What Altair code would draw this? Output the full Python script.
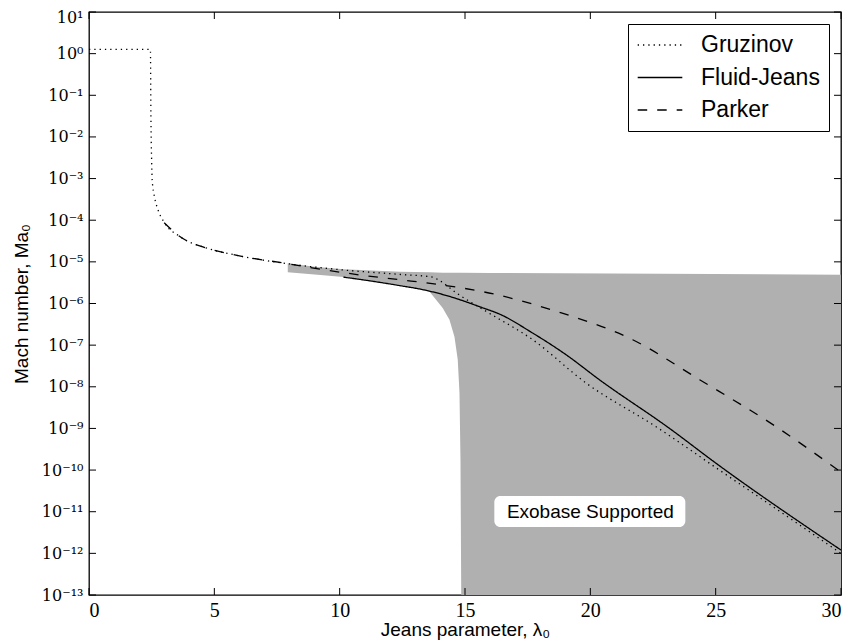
import json
import altair as alt
import pandas as pd

# ---------------- data ----------------
series_names = ["Gruzinov", "Fluid-Jeans", "Parker"]

gruzinov_x = [0.0, 2.45, 2.47, 2.50, 2.52, 2.61, 2.75, 3.01, 3.61, 4.74, 5.74, 8.0,
              10.26, 12.4, 13.7, 14.0, 14.65, 15.84, 17.7, 19.83, 22.62, 25.15, 30.0]
gruzinov_y = [1.26, 1.26, 3.2e-2, 2.5e-3, 9.3e-4, 3.7e-4, 1.8e-4, 8.7e-5, 4.1e-5, 2.1e-5,
              1.5e-5, 8.9e-6, 6.3e-6, 5.0e-6, 4.3e-6, 3.5e-6, 1.8e-6, 6.5e-7, 1.35e-7,
              1.23e-8, 1.1e-9, 1.0e-10, 1.0e-12]

fluid_x = [10.15, 11.2, 12.38, 13.4, 14.38, 15.7, 16.37, 17.7, 19.03, 20.36, 23.16, 25.02, 30.0]
fluid_y = [4.3e-6, 3.5e-6, 2.7e-6, 2.1e-6, 1.48e-6, 7.9e-7, 5.6e-7, 1.95e-7, 5.9e-8,
           1.48e-8, 1.0e-9, 1.45e-10, 1.2e-12]

parker_x = [3.0, 3.61, 4.74, 5.74, 8.0, 9.5, 10.86, 12.45, 14.05, 15.75, 18.64, 21.69,
            24.36, 27.41, 30.0]
parker_y = [8.7e-5, 4.1e-5, 2.1e-5, 1.5e-5, 8.9e-6, 6.3e-6, 4.8e-6, 3.7e-6, 2.8e-6,
            1.9e-6, 6.5e-7, 1.35e-7, 1.48e-8, 1.1e-9, 8.9e-11]

region_x = [7.93, 9.0, 10.15, 12.4, 13.58, 14.11, 14.38, 14.58, 14.71, 14.78, 14.82,
            14.85, 16.0, 30.0]
region_upper = [9.3e-6, 7.6e-6, 6.6e-6, 5.75e-6, 5.6e-6, 5.5e-6, 5.5e-6, 5.5e-6, 5.5e-6,
                5.5e-6, 5.5e-6, 5.5e-6, 5.4e-6, 4.9e-6]
region_lower = [5.6e-6, 5.0e-6, 4.3e-6, 2.8e-6, 1.95e-6, 7.8e-7, 4.1e-7, 1.6e-7, 4.5e-8,
                7.1e-9, 1.7e-10, 1e-13, 1e-13, 1e-13]

note_text = ["Exobase Supported"]
note_x = [20.0]
note_y = [1e-11]
note_box_x = [16.17]
note_box_x2 = [23.79]
note_box_y = [2.4e-11]
note_box_y2 = [4.27e-12]

x_ticks = [0, 5, 10, 15, 20, 25, 30]
y_ticks = [1e-13, 1e-12, 1e-11, 1e-10, 1e-9, 1e-8, 1e-7, 1e-6, 1e-5, 1e-4, 1e-3, 1e-2,
           1e-1, 1e0, 1e1]
y_tick_labels = ["10⁻¹³", "10⁻¹²", "10⁻¹¹", "10⁻¹⁰", "10⁻⁹", "10⁻⁸", "10⁻⁷", "10⁻⁶",
                 "10⁻⁵", "10⁻⁴", "10⁻³", "10⁻²", "10⁻¹", "10⁰", "10¹"]

# ---------------- tables ----------------
rows = []
for name, xs, ys in [("Gruzinov", gruzinov_x, gruzinov_y),
                     ("Fluid-Jeans", fluid_x, fluid_y),
                     ("Parker", parker_x, parker_y)]:
    for i, (a, b) in enumerate(zip(xs, ys)):
        rows.append({"series": name, "lam": a, "mach": b, "i": i})
lines_df = pd.DataFrame(rows)
region_df = pd.DataFrame({"lam": region_x, "hi": region_upper, "lo": region_lower})
note_df = pd.DataFrame({"text": note_text, "lam": note_x, "mach": note_y,
                        "bx": note_box_x, "bx2": note_box_x2,
                        "by": note_box_y, "by2": note_box_y2})
xt_df = pd.DataFrame({"lam": x_ticks})
yt_df = pd.DataFrame({"mach": y_ticks})

W, H = 752, 583
TICK = 7
SERIF = "Liberation Serif"
SERIF_SUP = "DejaVu Serif"
SANS = "Liberation Sans"

xscale = alt.Scale(domain=[0, 30], nice=False, zero=False)
yscale = alt.Scale(type="log", domain=[1e-13, 10], nice=False)

label_expr = json.dumps(y_tick_labels, ensure_ascii=False) + "[round(log(datum.value)/LN10) + 13]"

xaxis = alt.Axis(values=x_ticks, format="d", ticks=False, domain=False, grid=False,
                 labelFont=SERIF, labelFontSize=20, labelPadding=5, labelColor="black",
                 title="Jeans parameter, λ₀", titleFont=SANS, titleFontSize=19,
                 titleFontWeight="normal", titleColor="black", titlePadding=0)
yaxis = alt.Axis(values=y_ticks, labelExpr=label_expr, ticks=False, domain=False, grid=False,
                 labelFont=SERIF_SUP, labelFontSize=16, labelPadding=6, labelColor="black",
                 labelOffset={"condition": {"test": "datum.value > 5", "value": 5}, "value": 0},
                 title="Mach number, Ma₀", titleFont=SANS, titleFontSize=19,
                 titleFontWeight="normal", titleColor="black", titlePadding=10)


def X(field):
    return alt.X(field, type="quantitative", scale=xscale, axis=xaxis)


def Y(field):
    return alt.Y(field, type="quantitative", scale=yscale, axis=yaxis)


region = alt.Chart(region_df).mark_area(color="#b0b0b0", opacity=1, clip=True).encode(
    x=X("lam"), y=Y("hi"), y2="lo:Q")

lines = alt.Chart(lines_df).mark_line(color="black", strokeWidth=1.3, interpolate="monotone",
                                      clip=True).encode(
    x=X("lam"), y=Y("mach"), order="i:Q",
    strokeDash=alt.StrokeDash(
        "series:N",
        scale=alt.Scale(domain=series_names, range=[[1.3, 4], [1, 0], [9.5, 10]]),
        legend=alt.Legend(title=None, orient="top-right", offset=12, symbolType="stroke",
                          symbolSize=1990, symbolStrokeWidth=1.3, symbolStrokeColor="black",
                          clipHeight=24, rowPadding=8.5, padding=9, labelFont=SANS,
                          labelFontSize=23, labelOffset=18, labelColor="black",
                          strokeColor="black", fillColor="white", cornerRadius=0)))

box = alt.Chart(note_df).mark_rect(color="white", cornerRadius=6).encode(
    x=X("bx"), x2="bx2:Q", y=Y("by"), y2="by2:Q")
note = alt.Chart(note_df).mark_text(font=SANS, fontSize=19, color="black", align="center",
                                    baseline="middle").encode(
    x=X("lam"), y=Y("mach"), text="text:N")

tick_mark = dict(color="black", strokeWidth=1)
xt_bottom = alt.Chart(xt_df).mark_rule(**tick_mark).encode(
    x=X("lam"), y=alt.value(H), y2=alt.value(H - TICK))
xt_top = alt.Chart(xt_df).mark_rule(**tick_mark).encode(
    x=X("lam"), y=alt.value(0), y2=alt.value(TICK))
yt_left = alt.Chart(yt_df).mark_rule(**tick_mark).encode(
    y=Y("mach"), x=alt.value(0), x2=alt.value(TICK))
yt_right = alt.Chart(yt_df).mark_rule(**tick_mark).encode(
    y=Y("mach"), x=alt.value(W), x2=alt.value(W - TICK))

chart = alt.layer(region, lines, box, note, xt_bottom, xt_top, yt_left, yt_right).properties(
    width=W, height=H,
    autosize=alt.AutoSizeParams(type="none"),
    padding={"left": 81, "top": 4, "right": 4, "bottom": 48},
).configure_view(stroke="black", strokeWidth=1.3)

chart.save("out.html", embed_options={"renderer": "svg", "actions": False})
